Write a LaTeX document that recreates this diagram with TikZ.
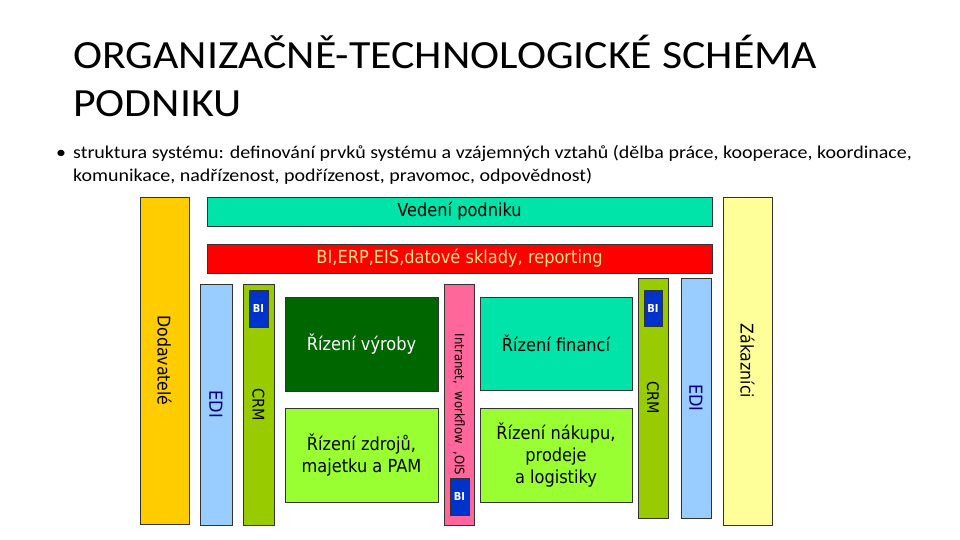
\documentclass[tikz,border=0pt]{standalone}
\usepackage{fontspec}
\setmainfont{Carlito}
\newfontfamily\boxfont{DejaVu Sans}[FakeStretch=0.9]
\usetikzlibrary{positioning}
\definecolor{lvedeni}{HTML}{00E3A9}
\definecolor{lsystem}{HTML}{FF0000}
\definecolor{lsystxt}{HTML}{FFE38A}
\definecolor{ldodav}{HTML}{FFCC00}
\definecolor{lzakaz}{HTML}{FFFF99}
\definecolor{ledi}{HTML}{99CCFF}
\definecolor{lcrm}{HTML}{99CC00}
\definecolor{lbi}{HTML}{0033CC}
\definecolor{lvyroba}{HTML}{006600}
\definecolor{lsvetla}{HTML}{99FF33}
\definecolor{lintra}{HTML}{FF6699}
\definecolor{lnavy}{HTML}{000080}
\tikzset{
  % obecny blok
  box/.style={draw=black!80, line width=0.8pt, inner sep=0pt, align=center,
    font=\boxfont\fontsize{18}{22}\selectfont},
  % svisly pruh (text otoceny)
  bar/.style={box, rotate=-90},
  % maly modry blok BI
  bibox/.style={draw=black!80, line width=0.8pt, fill=lbi, text=white, inner sep=0pt,
    minimum width=19pt, minimum height=37pt, font=\boxfont\bfseries\fontsize{11}{12}\selectfont},
  % hlavicka slajdu
  titul/.style={font=\fontsize{40}{48}\selectfont, align=left, inner sep=0pt,
    xscale=1.096, transform shape},
  odrazka/.style={font=\fontsize{18}{23}\selectfont, align=left, inner sep=0pt,
    xscale=1.11, transform shape},
}
\begin{document}
\begin{tikzpicture}[x=1pt, y=-1pt]
  \useasboundingbox (0,0) rectangle (960,540);
  % nadpis a text
  \node[titul, anchor=north west] (nadpis) at (73,35) {ORGANIZAČNĚ-TECHNOLOGICKÉ SCHÉMA\\PODNIKU};
  \node[odrazka, anchor=base] (tecka) at (61,159) {•};
  \node[odrazka, anchor=base west] (popis) at (73,182) {struktura systému: definování prvků systému a vzájemných vztahů (dělba práce, kooperace, koordinace,\\komunikace, nadřízenost, podřízenost, pravomoc, odpovědnost)};
  % horni pruhy
  \node[box, fill=lvedeni, minimum width=505pt, minimum height=29pt] (vedeni) at (459.5,211.5) {Vedení podniku};
  \node[box, fill=lsystem, text=lsystxt, minimum width=505pt, minimum height=29pt] (system) at (459.5,258.5) {BI,ERP,EIS,datové sklady, reporting};
  % okraje: dodavatele a zakaznici
  \node[bar, fill=ldodav, minimum width=327pt, minimum height=49pt, font=\boxfont\fontsize{17.5}{20}\selectfont] (dodav) at (164.5,360.5) {Dodavatelé};
  \node[bar, fill=lzakaz, minimum width=328pt, minimum height=49pt, font=\boxfont\fontsize{17.5}{20}\selectfont] (zakaz) at (747.5,361) {Zákazníci};
  % EDI a CRM
  \node[bar, fill=ledi, text=lnavy, minimum width=241pt, minimum height=32pt, font=\boxfont\fontsize{18}{20}\selectfont] (edil) at (216,404.5) {EDI};
  \node[bar, fill=lcrm, minimum width=241pt, minimum height=31pt, font=\boxfont\fontsize{16}{20}\selectfont] (crml) at (258.5,404.5) {CRM};
  \node[bar, fill=lcrm, minimum width=240pt, minimum height=30pt, font=\boxfont\fontsize{16}{20}\selectfont] (crmp) at (653,398) {CRM};
  \node[bar, fill=ledi, text=lnavy, minimum width=240pt, minimum height=30pt, font=\boxfont\fontsize{18}{20}\selectfont] (edip) at (696,398) {EDI};
  % intranet uprostred
  \node[bar, fill=lintra, minimum width=241pt, minimum height=30pt, font=\boxfont\fontsize{13}{15}\selectfont] (intra) at (459,404.5) {Intranet,\ \ workflow\ \ ,OIS};
  % rizeni
  \node[box, fill=lvyroba, text=white, minimum width=153pt, minimum height=94pt] (vyroba) at (361.5,344) {Řízení výroby};
  \node[box, fill=lsvetla, minimum width=153pt, minimum height=94pt] (zdroje) at (361.5,455) {Řízení zdrojů,\\majetku a PAM};
  \node[box, fill=lvedeni, minimum width=152pt, minimum height=93pt] (finance) at (556,343.5) {Řízení financí};
  \node[box, fill=lsvetla, minimum width=152pt, minimum height=94pt] (nakup) at (556,455) {Řízení nákupu,\\prodeje\\a logistiky};
  % bloky BI
  \node[bibox] (bil) at (258.5,308.5) {BI};
  \node[bibox] (bis) at (459.5,496.5) {BI};
  \node[bibox, minimum width=18pt, minimum height=36pt] (bip) at (653,308) {BI};
\end{tikzpicture}
\end{document}
